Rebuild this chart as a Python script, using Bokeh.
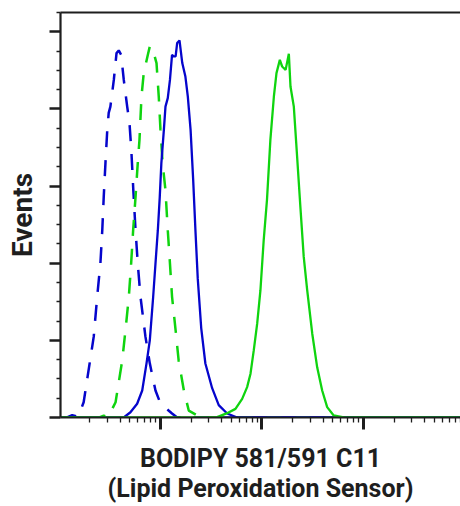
from bokeh.plotting import figure
from bokeh.models import LogAxis, LinearAxis, FixedTicker, Range1d
from bokeh.embed import file_html
from bokeh.resources import INLINE

# ---- data (fluorescence intensity vs events) ----
blue_dashed_x = [10.4, 12.0, 13.5, 15.5, 17.5, 20.4, 22.0, 23.8, 25.6, 26.7, 27.6, 28.7, 29.9, 30.9, 32.1,
                 34.7, 36.9, 38.8, 41.0, 43.5, 47.0, 49.5, 51.6, 54.0, 56.8, 59.7, 63.5, 71.1,
                 78.5, 89.3, 100, 130, 146, 90000]
blue_dashed_y = [0, 0, 1.5, 0.5, 9.9, 38.3, 52.4, 78.4, 100, 121.4, 143, 164.9, 186.4, 197.4, 201.5,
                 218.8, 236.2, 237.9, 235, 218.8, 201.5, 190.9, 173.4, 147.4, 121.4, 100, 78.4, 52.4,
                 35.1, 17.5, 9.1, 2.6, 0, 0]

green_dashed_x = [10.4, 25.0, 27.6, 30.5, 36.1, 42.0, 45.2, 48.8, 51.4, 53.8, 56.8, 59.7, 62.1, 65.0,
                  68.4, 75.0, 78.5, 82.8, 91.4, 96.2, 100, 105, 112, 118, 124, 130, 141, 151,
                  170, 190, 248, 90000]
green_dashed_y = [0, 0, 1.2, 0.3, 9.9, 37, 56.5, 78.4, 99.8, 121.4, 143, 164.7, 179.9, 208,
                  223.2, 235, 240.5, 240.1, 229.7, 208, 186.4, 164.7, 147.4, 121.4, 99.8, 78.4, 56.5, 37,
                  17.5, 4.5, 0, 0]

blue_solid_x = [10.4, 43.5, 50.6, 58.9, 66.1, 72.8, 78.5, 84.7, 89.3, 94.2, 98.4, 102, 108, 112,
                118, 124, 130, 135, 141, 146, 154, 164, 176, 186, 198, 210, 221, 233, 252,
                277, 323, 375, 454, 570, 90000]
blue_solid_y = [0, 0, 3.4, 8.9, 17.5, 34.9, 50, 78.1, 99.8, 121.4, 143, 164.7, 186.4, 201.5,
                207, 218.8, 235, 234, 234, 242.7, 244.4, 229.7, 221, 208, 186.4, 154, 121.4, 90, 58,
                35, 19, 8, 2.6, 0, 0]

green_solid_x = [10.4, 362, 454, 548, 638, 714, 771, 830, 897, 966, 1040, 1120, 1210, 1310, 1390,
                 1500, 1580, 1710, 1840, 1910, 2060, 2220, 2390, 2580, 2790, 3130, 3500, 3920,
                 4390, 5090, 6400, 90000]
green_solid_y = [0, 0.2, 2.8, 5.6, 12.1, 19.7, 28.4, 43.5, 60.8, 82.5, 114.9, 140.9, 179.9, 207.9, 223.2,
                 231.8, 227.5, 225.3, 235.7, 214.5, 201.5, 169, 136.6, 104.1, 82.5, 54.3, 32.5, 17.5,
                 6.7, 1.3, 0, 0]

x_major = [10, 100, 1000, 10000, 100000]
x_mid = [50, 500, 5000, 50000]
y_major = [0, 50, 100, 150, 200, 250]
x_title = "BODIPY 581/591 C11\n(Lipid Peroxidation Sensor)"
y_title = "Events"

BLUE = "#0505cc"
GREEN = "#0fd40f"
INK = "#1e1e1e"
FONT = "Roboto"

p = figure(width=460, height=506, x_axis_type="log",
           x_range=Range1d(10.35, 90400), y_range=Range1d(0, 262.5),
           output_backend="svg", toolbar_location=None,
           min_border_left=60, min_border_right=0, min_border_top=12, min_border_bottom=89)
p.outline_line_color = None
p.grid.visible = False
p.background_fill_color = "white"
p.border_fill_color = "white"

p.line(blue_dashed_x, blue_dashed_y, line_color=BLUE, line_width=2.5, line_dash="16 13")
p.line(green_dashed_x, green_dashed_y, line_color=GREEN, line_width=2.5, line_dash="16 13")
p.line(blue_solid_x, blue_solid_y, line_color=BLUE, line_width=2.3)
p.line(green_solid_x, green_solid_y, line_color=GREEN, line_width=2.3)


def hide_labels(a):
    a.major_label_text_font_size = "1px"
    a.major_label_text_alpha = 0
    a.major_label_standoff = 0


minor_x = [k * d for d in [10, 100, 1000, 10000] for k in range(2, 10)]
xa = p.xaxis[0]
xa.ticker = FixedTicker(ticks=x_major, minor_ticks=minor_x)
xa.major_tick_out = 12
xa.major_tick_in = 0
xa.major_tick_line_width = 3
xa.minor_tick_out = 5
xa.minor_tick_in = 0
xa.minor_tick_line_width = 1.3
xa.axis_line_width = 2.2
xa.axis_line_color = INK
xa.major_tick_line_color = INK
xa.minor_tick_line_color = INK
hide_labels(xa)
xa.axis_label = x_title
xa.axis_label_text_font = FONT
xa.axis_label_text_font_style = "bold"
xa.axis_label_text_font_size = "25px"
xa.axis_label_text_line_height = 1.06
xa.axis_label_text_color = INK
xa.axis_label_standoff = 14

minor_y = [12.5 * i for i in range(22) if i % 4 != 0]
ya = p.yaxis[0]
ya.ticker = FixedTicker(ticks=y_major, minor_ticks=minor_y)
ya.major_tick_out = 11
ya.major_tick_in = 0
ya.major_tick_line_width = 2.5
ya.minor_tick_out = 4
ya.minor_tick_in = 0
ya.minor_tick_line_width = 1.5
ya.axis_line_width = 2.2
ya.axis_line_color = INK
ya.major_tick_line_color = INK
ya.minor_tick_line_color = INK
hide_labels(ya)
ya.axis_label = y_title
ya.axis_label_text_font = FONT
ya.axis_label_text_font_style = "bold"
ya.axis_label_text_font_size = "28px"
ya.axis_label_text_color = INK
ya.axis_label_standoff = 11

# top border
top = LinearAxis(ticker=FixedTicker(ticks=[10]), axis_line_width=2.2, axis_line_color=INK,
                 major_tick_out=0, major_tick_in=0, minor_tick_out=0, minor_tick_in=0)
hide_labels(top)
p.add_layout(top, "above")

# medium ticks at 5 x 10^n, drawn at the bottom edge
mid = LogAxis(ticker=FixedTicker(ticks=x_mid, minor_ticks=[]), fixed_location=0,
              axis_line_color=None, major_tick_out=0, major_tick_in=8,
              major_tick_line_width=1.6, major_tick_line_color=INK,
              minor_tick_out=0, minor_tick_in=0)
hide_labels(mid)
p.add_layout(mid, "above")

open("out.html", "w").write(file_html(p, INLINE))
